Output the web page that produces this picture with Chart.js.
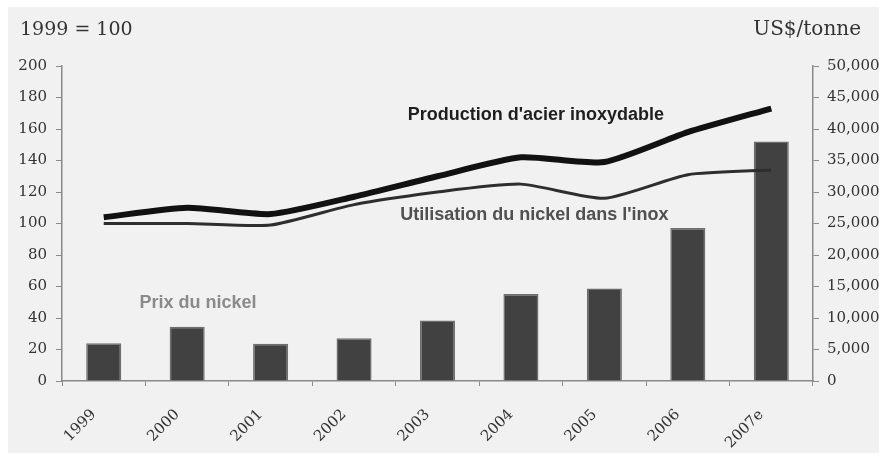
<!DOCTYPE html>
<html>
<head>
<meta charset="utf-8">
<script src="https://cdn.jsdelivr.net/npm/chart.js@4/dist/chart.umd.min.js"></script>
<style>
    html, body { margin: 0; padding: 0; background: #ffffff; }
    #wrap { width: 879px; height: 457px; position: relative; }
</style>
</head>
<body>
<div id="wrap"><canvas id="nickelChart"></canvas></div>
<script>
const years = ['1999', '2000', '2001', '2002', '2003', '2004', '2005', '2006', '2007e'];
// US$/tonne, right axis
const nickelPrice = [6000, 8600, 5900, 6800, 9600, 13800, 14700, 24300, 38000];
// index 1999 = 100, left axis
const stainlessOutput = [104, 110, 106, 117, 130, 142, 139, 158, 173];
const nickelUse = [100, 100, 99, 112, 120, 125, 116, 131, 134];

const indexTicks = { min: 0, max: 200, step: 20 };
const priceTicks = { min: 0, max: 50000, step: 5000 };

const axisGrey = '#8a8a8a';
const serif = 'DejaVu Serif';
const sans = 'Liberation Sans';

// grey panel, axis headers and the in-chart series labels
const decorations = {
    id: 'decorations',
    beforeDraw(chart) {
        const ctx = chart.ctx;
        ctx.save();
        ctx.fillStyle = '#ffffff';
        ctx.fillRect(0, 0, chart.width, chart.height);
        ctx.fillStyle = '#f1f1f1';
        ctx.fillRect(8, 7, chart.width - 8, chart.height - 11);
        ctx.restore();
    },
    afterDatasetsDraw(chart) {
        const ctx = chart.ctx;
        const x = chart.scales.x;
        const y = chart.scales.y;
        ctx.save();
        ctx.textBaseline = 'middle';

        ctx.fillStyle = '#333333';
        ctx.textAlign = 'left';
        ctx.font = '19px "' + serif + '"';
        ctx.fillText('1999 = 100', 20, 30);
        ctx.textAlign = 'right';
        ctx.font = '20px "' + serif + '"';
        ctx.fillText('US$/tonne', 861, 30);

        // label positions in category index / index-value units
        ctx.textAlign = 'center';
        ctx.font = 'bold 18px "' + sans + '"';
        ctx.fillStyle = '#1e1e1e';
        ctx.fillText("Production d'acier inoxydable", x.getPixelForValue(5.18), y.getPixelForValue(169));
        ctx.fillStyle = '#505050';
        ctx.fillText("Utilisation du nickel dans l'inox", x.getPixelForValue(5.16), y.getPixelForValue(105.5));
        ctx.fillStyle = '#8a8a8a';
        ctx.fillText('Prix du nickel', x.getPixelForValue(1.13), y.getPixelForValue(49.5));
        ctx.restore();
    }
};

new Chart(document.getElementById('nickelChart'), {
    data: {
        labels: years,
        datasets: [
            {
                type: 'line',
                label: "Production d'acier inoxydable",
                data: stainlessOutput,
                yAxisID: 'y',
                borderColor: '#111111',
                borderWidth: 6,
                pointRadius: 0,
                tension: 0.2,
                order: 1
            },
            {
                type: 'line',
                label: "Utilisation du nickel dans l'inox",
                data: nickelUse,
                yAxisID: 'y',
                borderColor: '#2e2e2e',
                borderWidth: 3,
                pointRadius: 0,
                tension: 0.2,
                order: 2
            },
            {
                type: 'bar',
                label: 'Prix du nickel',
                data: nickelPrice,
                yAxisID: 'y2',
                backgroundColor: '#414141',
                borderColor: '#6e6e6e',
                borderWidth: 1.5,
                barPercentage: 0.42,
                categoryPercentage: 1,
                order: 3
            }
        ]
    },
    options: {
        responsive: true,
        maintainAspectRatio: false,
        animation: false,
        devicePixelRatio: 1,
        layout: {
            padding: { top: 66, left: 0, right: 0, bottom: 0 }
        },
        plugins: {
            legend: { display: false },
            tooltip: { enabled: false },
            title: { display: false }
        },
        scales: {
            x: {
                offset: true,
                grid: {
                    offset: true,
                    drawOnChartArea: false,
                    tickLength: 5,
                    color: axisGrey
                },
                border: { color: axisGrey, width: 1.5 },
                ticks: {
                    minRotation: 45,
                    maxRotation: 45,
                    padding: 20,
                    labelOffset: -10,
                    color: '#333333',
                    font: { family: serif, size: 15 }
                },
                afterFit(scale) { scale.height = 76; }
            },
            y: {
                position: 'left',
                min: indexTicks.min,
                max: indexTicks.max,
                grid: {
                    drawOnChartArea: false,
                    tickLength: 6,
                    color: axisGrey
                },
                border: { color: axisGrey, width: 1.5 },
                ticks: {
                    stepSize: indexTicks.step,
                    padding: 9,
                    color: '#333333',
                    font: { family: serif, size: 15 }
                },
                afterFit(scale) { scale.width = 62; }
            },
            y2: {
                position: 'right',
                min: priceTicks.min,
                max: priceTicks.max,
                grid: {
                    drawOnChartArea: false,
                    tickLength: 6,
                    color: axisGrey
                },
                border: { color: axisGrey, width: 1.5 },
                ticks: {
                    stepSize: priceTicks.step,
                    padding: 8,
                    color: '#333333',
                    font: { family: serif, size: 15 }
                },
                afterFit(scale) { scale.width = 66; }
            }
        }
    },
    plugins: [decorations]
});
</script>
</body>
</html>
